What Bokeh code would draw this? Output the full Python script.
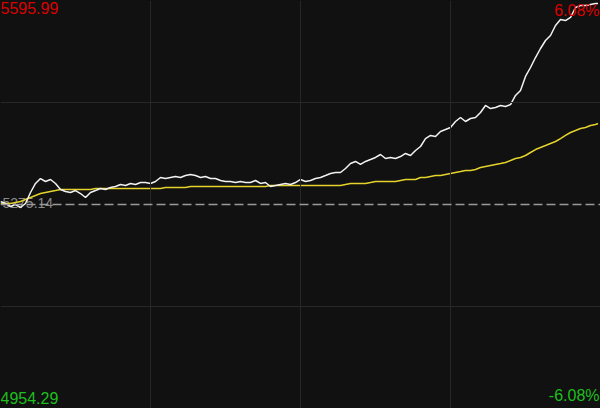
from bokeh.plotting import figure
from bokeh.models import Range1d, Span, Label
from bokeh.embed import file_html
from bokeh.resources import INLINE

# ---- data ----
prev_close = 5275.14
high_label = "5595.99"
low_label = "4954.29"
pct_up_label = "6.08%"
pct_dn_label = "-6.08%"
session_minutes = 240
grid_minutes = [60, 120, 180]

minutes = list(range(0, 240, 2)) + [239]

price = [
    5279.8, 5276.7, 5272.0, 5275.1, 5270.4, 5276.7, 5294.0, 5308.2, 5316.0, 5311.3,
    5314.5, 5308.2, 5298.7, 5295.6, 5294.0, 5297.1, 5292.4, 5286.1, 5294.0, 5297.1,
    5300.3, 5298.7, 5301.9, 5303.4, 5306.6, 5305.0, 5308.2, 5306.6, 5309.7, 5309.7,
    5308.2, 5311.3, 5317.6, 5316.0, 5317.6, 5319.2, 5317.6, 5320.7, 5322.3, 5320.7,
    5317.6, 5319.2, 5316.0, 5316.0, 5312.9, 5311.3, 5311.3, 5309.7, 5311.3, 5309.7,
    5309.7, 5312.9, 5308.2, 5309.7, 5303.4, 5305.0, 5306.6, 5308.2, 5306.6, 5309.7,
    5314.5, 5311.3, 5312.9, 5316.0, 5317.6, 5320.7, 5323.9, 5325.5, 5325.5, 5331.8,
    5339.6, 5342.8, 5338.1, 5342.8, 5345.9, 5349.1, 5353.8, 5347.5, 5349.1, 5347.5,
    5350.6, 5355.4, 5352.2, 5360.1, 5366.4, 5378.9, 5383.7, 5382.1, 5390.0, 5393.1,
    5396.2, 5405.7, 5412.0, 5405.7, 5410.4, 5412.0, 5419.8, 5430.9, 5426.1, 5427.7,
    5430.9, 5429.3, 5432.4, 5446.6, 5454.4, 5476.5, 5490.6, 5506.3, 5520.5, 5533.1,
    5540.9, 5556.7, 5566.1, 5564.5, 5569.3, 5585.0, 5588.1, 5588.1, 5589.7, 5591.3,
    5591.3,
]

avg_price = [
    5276.7, 5276.7, 5276.7, 5278.3, 5279.8, 5283.0, 5286.1, 5289.3, 5292.4, 5294.0,
    5295.6, 5297.1, 5298.7, 5298.7, 5298.7, 5298.7, 5298.7, 5298.7, 5298.7, 5300.3,
    5300.3, 5300.3, 5300.3, 5300.3, 5300.3, 5300.3, 5300.3, 5300.3, 5300.3, 5300.3,
    5300.3, 5300.3, 5300.3, 5301.9, 5301.9, 5301.9, 5301.9, 5301.9, 5303.4, 5303.4,
    5303.4, 5303.4, 5303.4, 5303.4, 5303.4, 5303.4, 5303.4, 5303.4, 5303.4, 5303.4,
    5303.4, 5303.4, 5303.4, 5303.4, 5305.0, 5305.0, 5305.0, 5305.0, 5305.0, 5305.0,
    5305.0, 5305.0, 5305.0, 5305.0, 5305.0, 5305.0, 5305.0, 5305.0, 5305.0, 5306.6,
    5308.2, 5308.2, 5308.2, 5308.2, 5309.7, 5311.3, 5311.3, 5311.3, 5311.3, 5311.3,
    5312.9, 5314.5, 5314.5, 5314.5, 5317.6, 5317.6, 5319.2, 5320.7, 5320.7, 5322.3,
    5323.9, 5325.5, 5327.0, 5328.6, 5328.6, 5330.2, 5333.3, 5334.9, 5336.5, 5338.1,
    5339.6, 5341.2, 5344.3, 5347.5, 5349.1, 5352.2, 5356.9, 5361.6, 5364.8, 5367.9,
    5371.1, 5374.2, 5378.9, 5383.7, 5388.4, 5391.5, 5394.7, 5396.2, 5399.4, 5401.0,
    5402.5,
]

# ---- figure ----
y_hi = float(high_label)
y_lo = float(low_label)
W, H = 600, 408
BG = "#111111"

p = figure(width=W, height=H, output_backend="svg", toolbar_location=None,
           x_range=Range1d(0, session_minutes), y_range=Range1d(y_lo, y_hi),
           min_border=0, background_fill_color=BG, border_fill_color=BG,
           outline_line_color=None)
p.axis.visible = False
p.grid.visible = False

grid_col = "#272727"
for m in grid_minutes:
    p.add_layout(Span(location=m, dimension="height", line_color=grid_col, line_width=1))
for frac in (0.25, 0.75):
    p.add_layout(Span(location=y_lo + (y_hi - y_lo) * frac, dimension="width",
                      line_color=grid_col, line_width=1))
p.add_layout(Span(location=prev_close, dimension="width", line_color="#9a9a9a",
                  line_width=1.5, line_dash="9 4"))

p.add_layout(Label(x=2, y=206, x_units="screen", y_units="screen", text=f"{prev_close:.2f}",
                   text_color="#8a8a8a", text_font_size="14px", text_font="Liberation Sans",
                   text_baseline="middle", level="underlay"))

p.line(minutes, avg_price, line_color="#e5d32b", line_width=1.5)
p.line(minutes, price, line_color="#f2f2f2", line_width=1.5)

red = "#dd0000"
green = "#1dbf1d"
fnt = "Liberation Sans"
p.add_layout(Label(x=0, y=H - 1, x_units="screen", y_units="screen", text=high_label,
                   text_color=red, text_font_size="16px", text_font=fnt, text_baseline="top"))
p.add_layout(Label(x=W - 1, y=H - 1, x_units="screen", y_units="screen", text=pct_up_label,
                   text_color=red, text_font_size="16px", text_font=fnt, text_baseline="top",
                   text_align="right"))
p.add_layout(Label(x=0, y=5, x_units="screen", y_units="screen", text=low_label,
                   text_color=green, text_font_size="16px", text_font=fnt,
                   text_baseline="bottom"))
p.add_layout(Label(x=W - 1, y=5, x_units="screen", y_units="screen", text=pct_dn_label,
                   text_color=green, text_font_size="16px", text_font=fnt,
                   text_baseline="bottom", text_align="right"))

html = file_html(p, INLINE)
html = html.replace("<head>", "<head><style>html,body{margin:0;padding:0;background:#111111;overflow:hidden;}</style>", 1)
open("out.html", "w").write(html)
